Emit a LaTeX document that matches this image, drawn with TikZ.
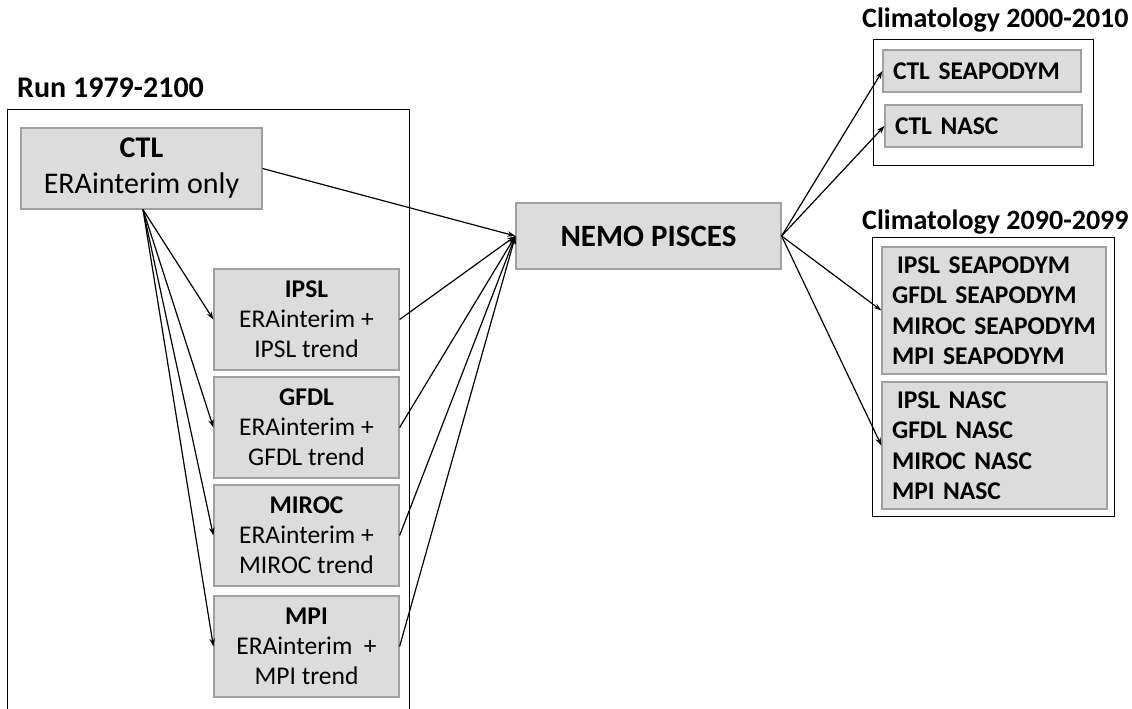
\documentclass[tikz,border=0pt]{standalone}
\usepackage{fontspec}
\setmainfont{Carlito}
\usetikzlibrary{arrows.meta}
\definecolor{boxfill}{RGB}{220,220,220}
\definecolor{boxline}{RGB}{160,160,160}
\tikzset{
  run/.style={draw=boxline,fill=boxfill,line width=1.2pt,inner sep=0pt,align=center,font=\fontsize{25.5}{30}\selectfont},
  clim/.style={draw=boxline,fill=boxfill,line width=1.2pt,inner sep=0pt,align=left,font=\bfseries\fontsize{25.5}{30.5}\selectfont},
  frame/.style={draw=black,line width=1pt},
  heading/.style={anchor=west,inner sep=0pt,font=\bfseries\fontsize{28}{34}\selectfont},
  link/.style={line width=1.2pt,-{Stealth[length=8pt,width=5.5pt]}}
}

\begin{document}
\begin{tikzpicture}[x=1pt,y=-1pt]
    \useasboundingbox (0,0) rectangle (1132,709);
    % containers
    \draw[frame] (7,712) -- (7,109) -- (409,109) -- (409,712);
    \draw[frame] (873,40) rectangle (1093,165);
    \draw[frame] (872,237) rectangle (1114,516);
    \node[heading,font=\bfseries\fontsize{30}{34}\selectfont] (runtitle) at (17,88) {Run 1979-2100};
    \node[heading] (presenttitle) at (862,20) {Climatology 2000-2010};
    \node[heading] (futuretitle) at (862,222) {Climatology 2090-2099};
    % forcing runs
    \node[run,minimum width=241,minimum height=81,font=\fontsize{30}{36}\selectfont] (ctl) at (141.5,168.5) {\textbf{CTL}\\ERAinterim only};
    \node[run,minimum width=185,minimum height=101] (ipsl) at (306.5,319.5) {\textbf{IPSL}\\ERAinterim +\\IPSL trend};
    \node[run,minimum width=185,minimum height=101] (gfdl) at (306.5,427.5) {\textbf{GFDL}\\ERAinterim +\\GFDL trend};
    \node[run,minimum width=185,minimum height=101] (miroc) at (306.5,535.5) {\textbf{MIROC}\\ERAinterim +\\MIROC trend};
    \node[run,minimum width=185,minimum height=101] (mpi) at (306.5,646.5) {\textbf{MPI}\\ERAinterim~~+\\MPI trend};
    % model
    \node[run,minimum width=265,minimum height=66,font=\bfseries\fontsize{31}{36}\selectfont] (nemo) at (648.5,236) {NEMO PISCES};
    % climatologies
    \node[clim,minimum width=198,minimum height=42,text width=178] (ctlsea) at (982,71) {CTL SEAPODYM};
    \node[clim,minimum width=197,minimum height=42,text width=177] (ctlnasc) at (983.5,126) {CTL NASC};
    \node[clim,minimum width=224,minimum height=127,text width=204] (futsea) at (994,310.5)
      {\hspace{5pt}IPSL SEAPODYM\\GFDL SEAPODYM\\MIROC SEAPODYM\\MPI SEAPODYM};
    \node[clim,minimum width=225,minimum height=127,text width=205] (futnasc) at (994.5,445.5)
      {\hspace{5pt}IPSL NASC\\GFDL NASC\\MIROC NASC\\MPI NASC};
    % connectors
    \foreach \r in {ipsl,gfdl,miroc,mpi} \draw[link] (ctl.south) ++(1.5,0) -- (\r.west);
    \foreach \r in {ctl,ipsl,gfdl,miroc,mpi} \draw[link] (\r.east) -- (nemo.west);
    \foreach \c in {ctlsea,ctlnasc,futsea,futnasc} \draw[link] (nemo.east) -- (\c.west);
\end{tikzpicture}
\end{document}
